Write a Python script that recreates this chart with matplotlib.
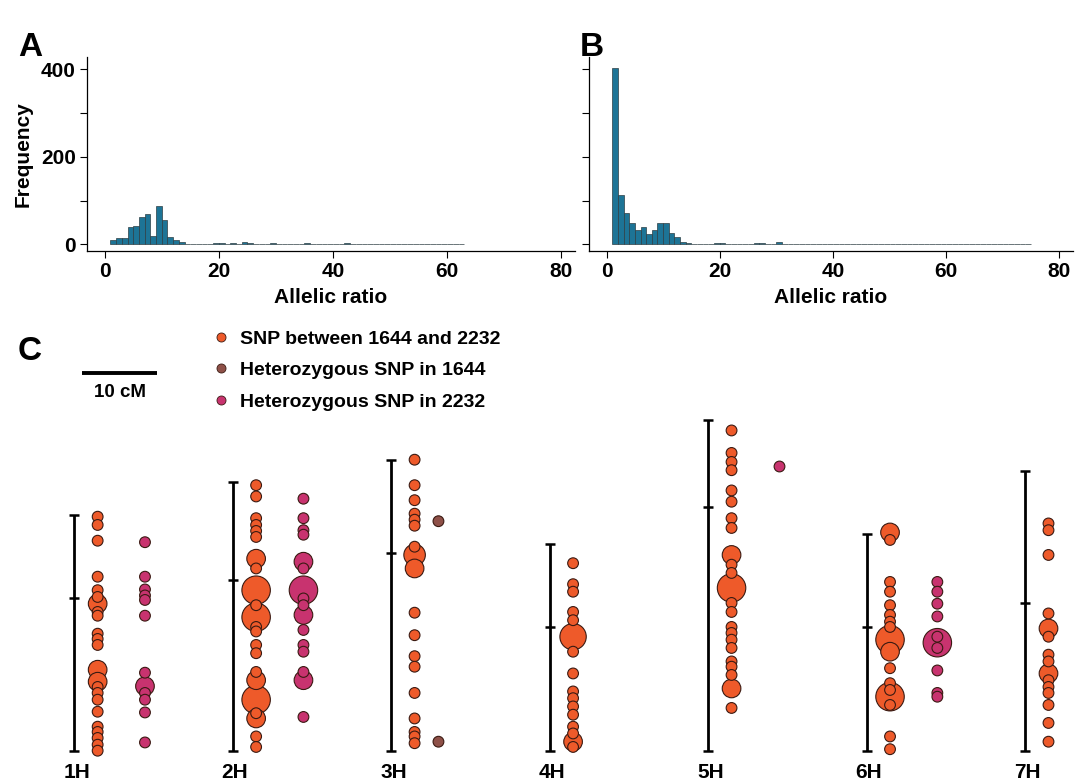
import matplotlib
matplotlib.use("Agg")
import matplotlib.pyplot as plt
from matplotlib.lines import Line2D
import numpy as np

plt.rcParams['font.family'] = ['Liberation Sans', 'DejaVu Sans']
plt.rcParams['font.weight'] = 'bold'

# ---------------- data ----------------
# histogram counts, bins of width 1 starting at allelic ratio 1
counts_a = [9, 15, 15, 40, 43, 63, 69, 20, 87, 55, 18, 11, 6, 1, 0, 2, 2, 0, 4, 3,
            1, 3, 2, 6, 4, 1, 1, 2, 3, 1, 0, 0, 0, 0, 3, 0, 0, 0, 0, 0,
            0, 3, 2, 0, 1, 1, 0, 0, 0, 1, 0, 1, 1, 0, 0, 0, 0, 0, 0, 0,
            0, 1]
counts_b = [402, 112, 72, 49, 34, 40, 24, 34, 50, 49, 26, 17, 5, 4, 2, 1, 0, 0, 4, 4,
            0, 0, 0, 0, 1, 4, 4, 0, 0, 5, 0, 0, 0, 0, 0, 0, 0, 1, 0, 1,
            2, 0, 0, 0, 0, 0, 0, 0, 0, 1, 0, 0, 1, 0, 0, 0, 0, 0, 0, 0,
            0, 0, 0, 0, 1, 0, 1, 0, 0, 0, 0, 0, 0, 1]
bin_start = 1

chroms = ["1H", "2H", "3H", "4H", "5H", "6H", "7H"]
chrom_len = [31.4, 35.8, 38.8, 27.6, 44.1, 28.9, 37.3]      # cM
centromere = [20.3, 22.8, 26.3, 16.5, 32.5, 16.5, 19.7]     # cM

# (position cM, number of SNPs at locus)
snp_between = {
    "1H": [(31.2, 1), (30.1, 1), (28.0, 1), (23.2, 1), (21.4, 1), (20.5, 1), (19.6, 3), (18.5, 1),
           (18.0, 1), (15.6, 1), (14.9, 1), (14.1, 1), (10.8, 3), (9.2, 3), (8.5, 1), (7.7, 1),
           (6.8, 1), (5.2, 1), (3.2, 1), (2.5, 1), (1.7, 1), (0.8, 1), (0.0, 1)],
    "2H": [(35.4, 1), (33.9, 1), (31.0, 1), (30.1, 1), (29.3, 1), (28.5, 1), (25.6, 3), (24.3, 1),
           (21.4, 7), (19.4, 1), (17.8, 7), (16.5, 1), (15.9, 1), (14.1, 1), (13.0, 1), (10.5, 1),
           (9.4, 3), (6.8, 7), (5.0, 1), (4.3, 3), (1.9, 1), (0.5, 1)],
    "3H": [(38.8, 1), (35.4, 1), (33.4, 1), (31.6, 1), (30.8, 1), (30.0, 1), (27.2, 1), (26.1, 4),
           (24.3, 3), (18.4, 1), (15.4, 1), (12.6, 1), (11.2, 1), (7.7, 1), (4.3, 1), (2.5, 1),
           (1.9, 1), (1.0, 1)],
    "4H": [(25.0, 1), (22.2, 1), (21.2, 1), (18.5, 1), (17.4, 1), (15.2, 6), (13.2, 1), (10.3, 1),
           (7.9, 1), (7.0, 1), (5.9, 1), (4.8, 1), (3.2, 1), (2.3, 1), (1.2, 3), (0.5, 1)],
    "5H": [(42.7, 1), (39.7, 1), (38.5, 1), (37.4, 1), (34.7, 1), (33.2, 1), (31.0, 1), (29.7, 1),
           (26.1, 3), (24.8, 1), (23.7, 1), (21.7, 7), (19.7, 1), (18.5, 1), (16.5, 1), (15.7, 1),
           (14.8, 1), (13.7, 1), (11.9, 1), (11.2, 1), (10.1, 1), (8.3, 3), (5.7, 1)],
    "6H": [(29.1, 3), (28.1, 1), (22.5, 1), (21.2, 1), (19.4, 1), (18.1, 1), (17.2, 1), (16.5, 1),
           (14.8, 7), (13.2, 3), (11.0, 1), (9.0, 1), (8.1, 1), (7.2, 7), (6.1, 1), (1.9, 1), (0.2, 1)],
    "7H": [(30.3, 1), (29.4, 1), (26.1, 1), (18.3, 1), (16.3, 3), (15.2, 1), (12.8, 1), (11.9, 1),
           (10.3, 3), (9.4, 1), (8.5, 1), (7.7, 1), (6.1, 1), (3.7, 1), (1.2, 1)],
}
het_1644 = {
    "3H": [(30.6, 1), (1.2, 1)],
}
het_2232 = {
    "1H": [(27.8, 1), (23.2, 1), (21.5, 1), (20.7, 1), (20.1, 1), (18.0, 1), (10.4, 1), (8.6, 3),
           (7.7, 1), (6.8, 1), (5.1, 1), (1.1, 1)],
    "2H": [(33.6, 1), (31.0, 1), (29.4, 1), (28.8, 1), (25.2, 3), (24.3, 1), (21.4, 7), (20.3, 1),
           (19.4, 1), (18.1, 3), (16.1, 1), (14.1, 1), (13.2, 1), (10.5, 1), (9.4, 3), (4.5, 1)],
    "5H": [(38.0, 1)],
    "6H": [(22.5, 1), (21.2, 1), (19.6, 1), (17.9, 1), (15.2, 1), (14.4, 7), (13.7, 1), (10.7, 1),
           (7.7, 1), (7.2, 1)],
}

labels_snp = ["SNP between 1644 and 2232", "Heterozygous SNP in 1644", "Heterozygous SNP in 2232"]
col_snp = ["#EE5A2A", "#8E5048", "#C8336F"]

# ---------------- layout helpers ----------------
W, H = 1076, 782
fig = plt.figure(figsize=(W / 100, H / 100), dpi=100)
fig.patch.set_facecolor("white")


def px_axes(left, top, right, bottom):
    return fig.add_axes([left / W, 1 - bottom / H, (right - left) / W, (bottom - top) / H])


bar_col = "#1D7496"
bar_edge = "#2E3E44"
fs = 15


def hist_panel(ax, counts, show_ylab=True):
    edges = bin_start + np.arange(len(counts))
    ax.bar(edges, counts, width=1, align="edge", color=bar_col,
           edgecolor=bar_edge, linewidth=0.5)
    ax.set_xlim(-3.1, 82.4)
    ax.set_ylim(-15, 428)
    ax.set_xticks([0, 20, 40, 60, 80])
    ax.set_yticks([0, 100, 200, 300, 400])
    if show_ylab:
        ax.set_yticklabels(["0", "", "200", "", "400"])
        ax.set_ylabel("Frequency", fontsize=fs, fontweight="bold", labelpad=6)
    else:
        ax.set_yticklabels([])
    ax.set_xlabel("Allelic ratio", fontsize=fs, fontweight="bold", labelpad=5)
    ax.tick_params(direction="out", length=5, width=0.8, labelsize=fs, pad=3)
    for s in ["top", "right"]:
        ax.spines[s].set_visible(False)
    for s in ["left", "bottom"]:
        ax.spines[s].set_linewidth(0.9)


ax_a = px_axes(87, 57, 575, 251)
hist_panel(ax_a, counts_a, True)
ax_b = px_axes(589, 57, 1073, 251)
hist_panel(ax_b, counts_b, False)

fig.text(18 / W, 1 - 47 / H, "A", fontsize=24, fontweight="bold", va="center")
fig.text(580 / W, 1 - 47 / H, "B", fontsize=24, fontweight="bold", va="center")
fig.text(18 / W, 1 - 352 / H, "C", fontsize=24, fontweight="bold", va="center")

# ---------------- panel C: genetic map ----------------
scale = 7.5            # px per cM
base_px = 750.7        # px of 0 cM
top_px = 320
ax_c = px_axes(0, top_px, W, H)
ax_c.set_xlim(0, W / scale)
ax_c.set_ylim((base_px - H) / scale, (base_px - top_px) / scale)
ax_c.axis("off")

chrom_x0 = 9.9
chrom_step = 21.13
col_offset = [3.12, 6.3, 9.43]
cap = 0.65

for i, ch in enumerate(chroms):
    x = chrom_x0 + i * chrom_step
    ax_c.plot([x, x], [0, chrom_len[i]], color="black", lw=2.0, solid_capstyle="butt")
    for y in [0, chrom_len[i], centromere[i]]:
        ax_c.plot([x - cap, x + cap], [y, y], color="black", lw=1.8, solid_capstyle="butt")
    ax_c.text(x + 0.3, -2.85, ch, ha="center", va="center", fontsize=fs, fontweight="bold")

    for k, group in enumerate([snp_between, het_1644, het_2232]):
        pts = group.get(ch, [])
        if not pts:
            continue
        pts = sorted(pts, key=lambda p: -p[1])
        pos = [p[0] for p in pts]
        n = np.array([p[1] for p in pts])
        ax_c.scatter(np.full(len(pos), x + col_offset[k]), pos, s=60 * n,
                     color=col_snp[k], edgecolor="#3A1A12", linewidth=0.8, zorder=3)

# scale bar 10 cM
sb_x = 82 / scale
sb_y = (base_px - 373) / scale
ax_c.plot([sb_x, sb_x + 10], [sb_y, sb_y], color="black", lw=2.8, solid_capstyle="butt")
ax_c.text(sb_x + 5, sb_y - 2.55, "10 cM", ha="center", va="center", fontsize=13.5,
          fontweight="bold")

handles = [Line2D([], [], marker="o", ls="", markersize=6.5, markerfacecolor=c,
                  markeredgecolor="#3A1A12", markeredgewidth=0.6) for c in col_snp]
ax_c.legend(handles, labels_snp, loc="upper left", bbox_to_anchor=(215 / W, 1 - 330 / H),
            bbox_transform=fig.transFigure, frameon=False, handlelength=0.6,
            handletextpad=0.7, labelspacing=0.72, borderpad=0, borderaxespad=0,
            prop={"weight": "bold", "size": 14})

fig.savefig("out.png", dpi=100, facecolor="white")
